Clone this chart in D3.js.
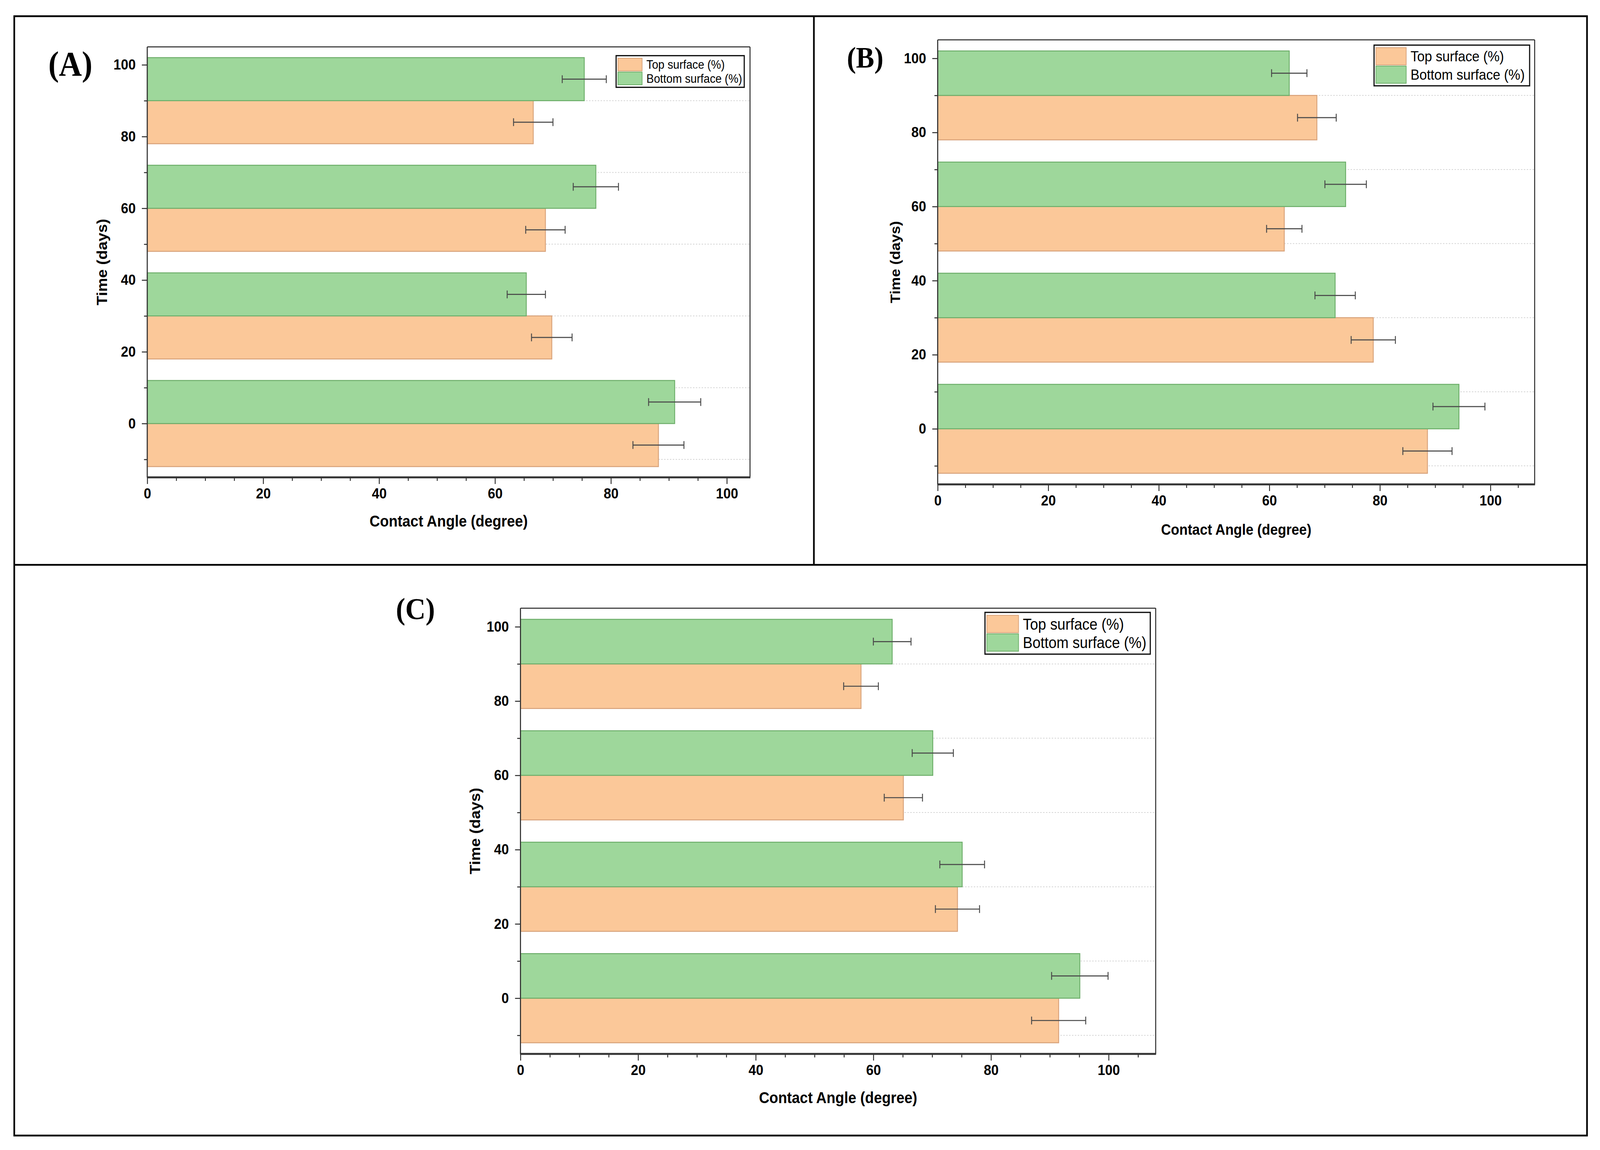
<!DOCTYPE html>
<html>
<head>
<meta charset="utf-8">
<script src="https://cdn.jsdelivr.net/npm/d3@7/dist/d3.min.js"></script>
<style>
  html, body { margin: 0; padding: 0; background: #fff; width: 100%; height: 100%; overflow: hidden; }
  svg { display: block; width: 100vw; height: 100vh; }
</style>
</head>
<body>
<svg id="chart" viewBox="0 0 4433 2944" preserveAspectRatio="none"></svg>
<script>
// ---------------- DATA ----------------
const timePoints = [0, 30, 60, 90];            // group centres on the Time axis (days)
const seriesNames = ["Top surface (%)", "Bottom surface (%)"];
const yMajorTicks = [0, 20, 40, 60, 80, 100];
const yMinorTicks = [-10, 10, 30, 50, 70, 90];
const xMajorTicks = [0, 20, 40, 60, 80, 100];

// Panel A
const topA = [88.2, 69.8, 68.7, 66.6];
const topErrA = [4.4, 3.5, 3.4, 3.4];
const bottomA = [91.0, 65.4, 77.4, 75.4];
const bottomErrA = [4.5, 3.3, 3.9, 3.8];
// Panel B
const topB = [88.6, 78.8, 62.7, 68.6];
const topErrB = [4.45, 4.0, 3.2, 3.5];
const bottomB = [94.3, 71.9, 73.8, 63.6];
const bottomErrB = [4.7, 3.65, 3.75, 3.2];
// Panel C
const topC = [91.5, 74.3, 65.1, 57.9];
const topErrC = [4.6, 3.75, 3.25, 2.95];
const bottomC = [95.1, 75.1, 70.1, 63.2];
const bottomErrC = [4.8, 3.8, 3.5, 3.2];

const panelLabels = ["(A)", "(B)", "(C)"];
const xTitle = "Contact Angle (degree)";
const yTitle = "Time (days)";

// ---------------- STYLE / LAYOUT ----------------
const BAR_H = 12;   // bar thickness in Time units
const COLORS = { top: "#FBC899", topStroke: "#D8A27A", bottom: "#9ED79B", bottomStroke: "#6DAE6A" };
const SANS = "'Liberation Sans', Arial, Helvetica, sans-serif";
const SERIF = "'Liberation Serif', 'Times New Roman', serif";

const panels = [
  { label: panelLabels[0], top: topA, topErr: topErrA, bottom: bottomA, bottomErr: bottomErrA,
    xmax: 104, L: 408, R: 2078, T: 120, B: 1222,
    lab: { x: 195, y: 193, size: 88 },
    yTitleX: 282, xTitleY: 1348, titleSize: 40, tickSize: 37,
    leg: { x0: 1707, y0: 142.5, x1: 2062, y1: 223.5, sw: 67, font: 31, pad: 5 } },
  { label: panelLabels[1], top: topB, topErr: topErrB, bottom: bottomB, bottomErr: bottomErrB,
    xmax: 108, L: 2598, R: 4252, T: 102, B: 1240,
    lab: { x: 2397, y: 173, size: 76 },
    yTitleX: 2480, xTitleY: 1369, titleSize: 38, tickSize: 37,
    leg: { x0: 3807, y0: 115.5, x1: 4238, y1: 219.7, sw: 84, font: 37, pad: 5 } },
  { label: panelLabels[2], top: topC, topErr: topErrC, bottom: bottomC, bottomErr: bottomErrC,
    xmax: 108, L: 1442, R: 3202, T: 1557, B: 2698,
    lab: { x: 1151, y: 1585, size: 78 },
    yTitleX: 1316, xTitleY: 2824, titleSize: 40, tickSize: 37,
    leg: { x0: 2729, y0: 1567.7, x1: 3187, y1: 1674.6, sw: 88, font: 40, pad: 6 } }
];

const svg = d3.select("#chart");
svg.append("rect").attr("width", 4433).attr("height", 2944).attr("fill", "#fff");

// Outer frames
const frame = svg.append("g").attr("stroke", "#000").attr("stroke-width", 4.6).attr("fill", "none");
frame.append("rect").attr("x", 39.5).attr("y", 41.5).attr("width", 4397 - 39.5).attr("height", 2907 - 41.5);
frame.append("line").attr("x1", 39.5).attr("x2", 4397).attr("y1", 1446).attr("y2", 1446);
frame.append("line").attr("x1", 2255).attr("x2", 2255).attr("y1", 41.5).attr("y2", 1446);

function drawPanel(p) {
  const g = svg.append("g");
  const x = d3.scaleLinear().domain([0, p.xmax]).range([p.L, p.R]);
  const y = d3.scaleLinear().domain([-15, 105]).range([p.B, p.T]);

  // dotted grid lines at minor ticks
  g.append("g").selectAll("line").data(yMinorTicks).join("line")
    .attr("x1", p.L).attr("x2", p.R)
    .attr("y1", d => y(d)).attr("y2", d => y(d))
    .attr("stroke", "#d4d4d4").attr("stroke-width", 2).attr("stroke-dasharray", "4,4");

  const rows = timePoints.map((t, i) => ({
    t, top: p.top[i], topErr: p.topErr[i], bottom: p.bottom[i], bottomErr: p.bottomErr[i]
  }));

  // Top surface bars (below the group centre)
  g.append("g").selectAll("rect").data(rows).join("rect")
    .attr("x", x(0)).attr("y", d => y(d.t))
    .attr("width", d => x(d.top) - x(0))
    .attr("height", d => y(d.t - BAR_H) - y(d.t))
    .attr("fill", COLORS.top).attr("stroke", COLORS.topStroke).attr("stroke-width", 2.5);
  // Bottom surface bars (above the group centre)
  g.append("g").selectAll("rect").data(rows).join("rect")
    .attr("x", x(0)).attr("y", d => y(d.t + BAR_H))
    .attr("width", d => x(d.bottom) - x(0))
    .attr("height", d => y(d.t) - y(d.t + BAR_H))
    .attr("fill", COLORS.bottom).attr("stroke", COLORS.bottomStroke).attr("stroke-width", 2.5);

  // Error bars
  const errs = [];
  rows.forEach(d => {
    errs.push({ v: d.top, e: d.topErr, c: d.t - BAR_H / 2 });
    errs.push({ v: d.bottom, e: d.bottomErr, c: d.t + BAR_H / 2 });
  });
  const eg = g.append("g").attr("stroke", "#4a4a4a").attr("stroke-width", 2.6).attr("fill", "none");
  eg.selectAll("path").data(errs).join("path")
    .attr("d", d => {
      const x1 = x(d.v - d.e), x2 = x(d.v + d.e), cy = y(d.c), h = 10;
      return `M${x1},${cy - h}V${cy + h}M${x1},${cy}H${x2}M${x2},${cy - h}V${cy + h}`;
    });

  // Frame: top & right thin lines
  g.append("line").attr("x1", p.L).attr("x2", p.R).attr("y1", p.T).attr("y2", p.T)
    .attr("stroke", "#222").attr("stroke-width", 2.6);
  g.append("line").attr("x1", p.R).attr("x2", p.R).attr("y1", p.T).attr("y2", p.B)
    .attr("stroke", "#222").attr("stroke-width", 2.6);

  // X axis
  const xMinor = d3.range(5, p.xmax + 0.01, 5).filter(v => xMajorTicks.indexOf(v) < 0);
  const xAxisMinor = g.append("g").attr("transform", `translate(0,${p.B})`)
    .call(d3.axisBottom(x).tickValues(xMinor).tickSize(9).tickFormat(""));
  const xAxis = g.append("g").attr("transform", `translate(0,${p.B})`)
    .call(d3.axisBottom(x).tickValues(xMajorTicks).tickSize(17).tickPadding(11).tickFormat(d3.format("d")));
  [xAxisMinor, xAxis].forEach(a => {
    a.select(".domain").remove();
    a.selectAll(".tick line").attr("stroke", "#222").attr("stroke-width", 2.4);
  });
  xAxis.selectAll("text").attr("font-family", SANS).attr("font-weight", "bold")
    .attr("font-size", p.tickSize).attr("fill", "#000");
  g.append("line").attr("x1", p.L - 1).attr("x2", p.R + 1).attr("y1", p.B).attr("y2", p.B)
    .attr("stroke", "#333").attr("stroke-width", 5);

  // Y axis
  const yAxisMinor = g.append("g").attr("transform", `translate(${p.L},0)`)
    .call(d3.axisLeft(y).tickValues(yMinorTicks).tickSize(9).tickFormat(""));
  const yAxis = g.append("g").attr("transform", `translate(${p.L},0)`)
    .call(d3.axisLeft(y).tickValues(yMajorTicks).tickSize(15).tickPadding(17).tickFormat(d3.format("d")));
  [yAxisMinor, yAxis].forEach(a => {
    a.select(".domain").remove();
    a.selectAll(".tick line").attr("stroke", "#222").attr("stroke-width", 2.4);
  });
  yAxis.selectAll("text").attr("font-family", SANS).attr("font-weight", "bold")
    .attr("font-size", p.tickSize).attr("fill", "#000");
  g.append("line").attr("x1", p.L).attr("x2", p.L).attr("y1", p.T).attr("y2", p.B)
    .attr("stroke", "#333").attr("stroke-width", 3);

  // Axis titles
  g.append("text").attr("x", (p.L + p.R) / 2).attr("y", p.xTitleY)
    .attr("text-anchor", "middle").attr("font-family", SANS).attr("font-weight", "bold")
    .attr("font-size", p.titleSize).text(xTitle);
  g.append("text").attr("transform", `translate(${p.yTitleX},${(p.T + p.B) / 2}) rotate(-90)`)
    .attr("text-anchor", "middle").attr("dy", "0.35em").attr("font-family", SANS).attr("font-weight", "bold")
    .attr("font-size", p.titleSize).text(yTitle);

  // Legend
  const lg = p.leg;
  const lgG = g.append("g");
  lgG.append("rect").attr("x", lg.x0).attr("y", lg.y0).attr("width", lg.x1 - lg.x0).attr("height", lg.y1 - lg.y0)
    .attr("fill", "#fff").attr("stroke", "#111").attr("stroke-width", 3.2);
  const rowH = (lg.y1 - lg.y0 - 2 * lg.pad) / 2;
  const legItems = [
    { name: seriesNames[0], fill: COLORS.top, stroke: COLORS.topStroke },
    { name: seriesNames[1], fill: COLORS.bottom, stroke: COLORS.bottomStroke }
  ];
  legItems.forEach((it, i) => {
    const ry = lg.y0 + lg.pad + i * rowH;
    lgG.append("rect").attr("x", lg.x0 + 5).attr("y", ry + 1.5).attr("width", lg.sw).attr("height", rowH - 3)
      .attr("fill", it.fill).attr("stroke", it.stroke).attr("stroke-width", 2);
    lgG.append("text").attr("x", lg.x0 + 5 + lg.sw + 12).attr("y", ry + rowH / 2)
      .attr("dy", "0.36em").attr("font-family", SANS).attr("font-size", lg.font).attr("fill", "#000")
      .text(it.name);
  });

  // Panel label
  g.append("text").attr("x", p.lab.x).attr("y", p.lab.y).attr("text-anchor", "middle")
    .attr("font-family", SERIF).attr("font-weight", "bold").attr("font-size", p.lab.size)
    .text(p.label);
}

panels.forEach(drawPanel);
</script>
</body>
</html>
